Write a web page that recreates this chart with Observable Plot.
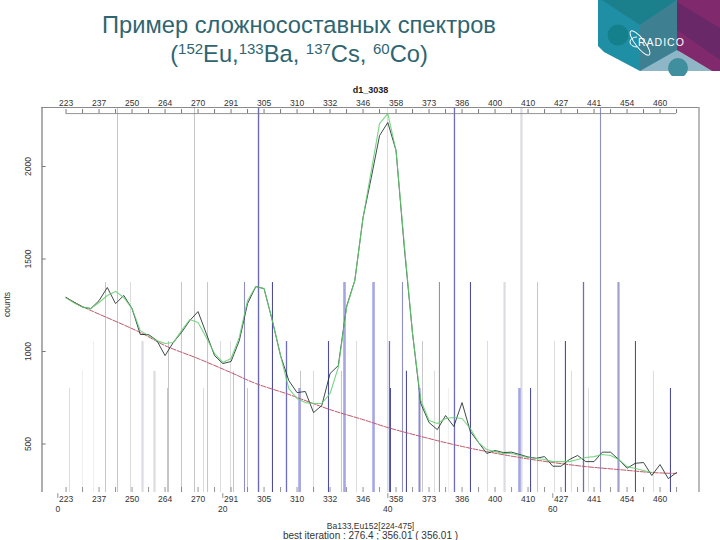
<!DOCTYPE html>
<html><head><meta charset="utf-8">
<script src="https://cdn.jsdelivr.net/npm/d3@7"></script>
<script src="https://cdn.jsdelivr.net/npm/@observablehq/plot@0.6"></script>
<style>
html,body{margin:0;padding:0;background:#fff;width:720px;height:540px;overflow:hidden}
#head{position:relative;height:82px;width:720px;font-family:"Liberation Sans",Arial,sans-serif;color:#2f6571}
#t1,#t2{position:absolute;left:0;width:598px;text-align:center;font-size:23.7px;white-space:nowrap}
#t1{top:12px}#t2{top:41px}
#t2 sup{font-size:15px;line-height:0;vertical-align:baseline;position:relative;top:-8px}
#logo{position:absolute;left:590px;top:0}
#chart svg{display:block}
</style></head><body>
<div id="head">
<div id="t1">Пример сложносоставных спектров</div>
<div id="t2">(<sup>152</sup>Eu,<sup>133</sup>Ba, <sup>137</sup>Cs, <sup>60</sup>Co)</div>
<svg id="logo" width="130" height="76" viewBox="590 0 130 76">
<polygon points="598,0 598,46 604,52 640,71 680,71 677,0" fill="#1f8fa6"/>
<polygon points="602,0 640,25 677,0" fill="#1b7f8c"/>
<polygon points="640,25 677,0 677,50 640,71" fill="#3f7f92"/>
<polygon points="640,71 677,50 712,71" fill="#8fb6c6"/>
<circle cx="618" cy="35" r="10.5" fill="#14808c"/>
<circle cx="678" cy="68" r="10" fill="#3f8f9e"/>
<polygon points="677,0 720,0 720,71 712,71 677,50" fill="#80296c"/>
<polygon points="677,2 720,28 720,60 677,30" fill="#5f2a66" opacity=".7"/>
<g fill="none" stroke="#fff" stroke-width="1">
<path d="M637,37 A7,5 0 1 0 637,47"/>
<ellipse cx="640" cy="43" rx="15" ry="4.5" transform="rotate(52 640 43)"/>
</g>
<text x="638" y="46" fill="#fff" font-family="'Liberation Sans',Arial,sans-serif" font-size="10.5" letter-spacing="1">RADICO</text>
</svg>
</div>
<div id="chart"></div>
<script>
const channelIndex = d3.range(1, 76);
const observed = [1292,1265,1240,1232,1275,1346,1259,1303,1232,1092,1092,1060,978,1049,1103,1168,1216,1097,978,935,946,1059,1259,1351,1340,1168,978,843,778,784,670,708,881,924,1243,1384,1724,1941,2167,2238,2086,1562,1097,719,616,578,654,595,724,568,508,449,465,454,456,443,430,423,432,380,380,416,438,405,405,456,456,416,369,396,400,330,389,313,346];
const fitted = [1290,1262,1240,1232,1265,1303,1325,1292,1232,1113,1086,1059,1043,1049,1113,1173,1157,1076,989,941,962,1076,1276,1351,1340,1168,978,800,746,724,719,719,773,914,1238,1384,1724,1978,2232,2286,2086,1578,1097,735,627,611,638,643,638,584,508,470,459,449,449,438,427,422,416,405,405,405,416,427,432,443,438,416,378,368,357,346];
const backgroundIndex = [1,3,10,13,17,21,24,28,33,37,40,44,48,52,56,60,64,68,72,75];
const background = [1292,1243,1103,1032,962,886,827,768,686,632,589,541,497,459,427,400,378,362,346,341];
const fullLines = [7.24,16.57,24.33,39.96,48.08,56.2,65.78];
const fullKinds = ["gray","gray","deep","pale","mid","wideGray","slate"];
const highLines = [5.78,8.81,14.99,18.15,22.63,26.02,34.75,38.27,41.78,46.26,50.02,54.15,58.15,63.72,67.96];
const highKinds = ["gray","pale","gray","gray","slate","dark","wideBlue","wideBlue","slate","slate","dark","wideGray","gray","mid","wideSlate"];
const midLines = [4.33,10.27,13.42,19.72,20.93,27.72,32.81,36.2,40.2,44.2,52.08,60.2,61.53,70.02];
const midKinds = ["faint","wideGray","gray","pale","pale","mid","dark","pale","mid","gray","pale","pale","dark","dark"];
const lowLines = [2.99,11.72,21.3,29.42,30.99,34.38,42.26,45.66,62.26,72.2];
const lowKinds = ["faint","wideGray","gray","gray","pale","gray","dark","pale","pale","pale"];
const baseLines = [1.42,13.3,17.66,22.99,29.3,40.32,43.84,47.35,55.96,57.3,64.32,74.26];
const baseKinds = ["pale","gray","pale","gray","wideBlue","dark","wideMid","faint","wideBlue","dark","pale","dark"];
const tierLevels = [2319,1373,1054,893,800];
const tickIndex = d3.range(1, 76, 2);
const labelIndex = d3.range(1, 74, 4);
const energyLabels = ["223","237","250","264","270","291","305","310","332","346","358","373","386","400","410","427","441","454","460"];
const indexTicks = [0,20,40,60];
const countTicks = [500,1000,1500,2000];

const xMin=-1.915,xMax=77.72,yMin=238,yMax=2319;
const labelOf = new Map(labelIndex.map((d,i)=>[d,energyLabels[i]]));
const kindColor = {deep:"#6a6ab0",dark:"#4d4d9e",mid:"#6c6cc0",slate:"#8f8fc0",wideBlue:"#a6a6e2",wideMid:"#8a8ad4",wideSlate:"#a0a0cc",gray:"#c6c6c6",pale:"#dcdcdc",faint:"#eeeeee",wideGray:"#dcdce2"};
const kindWidth = {deep:1.4,dark:1.1,mid:1.3,slate:1.1,wideBlue:2.6,wideMid:2,wideSlate:2.2,gray:1,pale:1,faint:1,wideGray:2.2};
const tiers=[[fullLines,fullKinds],[highLines,highKinds],[midLines,midKinds],[lowLines,lowKinds],[baseLines,baseKinds]];
const peaks = tiers.flatMap(([xs,ks],t)=>xs.map((x,i)=>({x,kind:ks[i],top:tierLevels[t]})));
const obs = channelIndex.map((x,i)=>({x,y:observed[i]}));
const fit = fitted.map((y,i)=>({x:channelIndex[i],y}));
const bg = backgroundIndex.map((x,i)=>({x,y:background[i]}));
const font="'Liberation Sans',Arial,sans-serif";

const plot = Plot.plot({
  width:720,height:458,
  marginTop:25,marginBottom:48,marginLeft:41.5,marginRight:21.5,
  style:{fontFamily:font,background:"#fff",color:"#333",overflow:"visible"},
  x:{domain:[xMin,xMax]},
  y:{domain:[yMin,yMax]},
  marks:[
    Plot.ruleX(peaks,{x:"x",y1:yMin,y2:"top",stroke:d=>kindColor[d.kind],strokeWidth:d=>kindWidth[d.kind]}),
    Plot.ruleY([yMax],{stroke:"#8a8a8a",strokeWidth:1}),
    Plot.ruleX([xMax],{stroke:"#8a8a8a",strokeWidth:1.2}),
    Plot.ruleX([xMin],{stroke:"#777",strokeWidth:1.2}),
    Plot.link(countTicks,{x1:xMin,x2:xMin+0.45,y1:d=>d,y2:d=>d,stroke:"#777"}),
    Plot.ruleY([2286],{x1:1,x2:75,stroke:"#777",strokeWidth:.8}),
    Plot.ruleX(tickIndex,{y1:2286,y2:2308,stroke:"#555",strokeWidth:.8}),
    Plot.ruleX(tickIndex,{y1:yMin,y2:265,stroke:"#777",strokeWidth:.8}),
    Plot.line(bg,{x:"x",y:"y",stroke:"#c0566a",strokeWidth:1,curve:"catmull-rom",strokeDasharray:"5 1.5"}),
    Plot.line(obs,{x:"x",y:"y",stroke:"#1c2a2a",strokeWidth:.85}),
    Plot.line(fit,{x:"x",y:"y",stroke:"#62cf6e",strokeWidth:1.1,strokeOpacity:.85}),
    Plot.axisY({anchor:"left",ticks:countTicks,tickFormat:d=>String(d),tickSize:0,tickPadding:11,tickRotate:-90,fontSize:8.5,label:null}),
    Plot.text(["counts"],{frameAnchor:"left",dx:-34.5,dy:17,rotate:-90,text:d=>d,fontSize:8.5,fill:"#333"}),
    Plot.axisX({anchor:"top",ticks:labelIndex,tickFormat:d=>labelOf.get(d),tickSize:0,tickPadding:2,fontSize:8.5,label:null}),
    Plot.axisX({anchor:"bottom",ticks:labelIndex,tickFormat:d=>labelOf.get(d),tickSize:0,tickPadding:3,fontSize:8.5,label:null}),
    Plot.ruleX(indexTicks,{y1:yMin-6,y2:yMin-32,stroke:"#777",strokeWidth:.8,clip:false}),
    Plot.text(indexTicks,{x:d=>d,text:d=>String(d),frameAnchor:"bottom",dy:19,fontSize:8.5,fill:"#333"}),
    Plot.text(["d1_3038"],{frameAnchor:"top",dy:-21,text:d=>d,fontSize:9,fontWeight:"bold",fill:"#222"}),
    Plot.text(["Ba133,Eu152[224-475]"],{frameAnchor:"bottom",dy:36,text:d=>d,fontSize:8.5,fill:"#333"}),
    Plot.text(["best iteration : 276.4 ; 356.01 ( 356.01 )"],{frameAnchor:"bottom",dy:46,text:d=>d,fontSize:10,fill:"#333"})
  ]
});
document.getElementById("chart").append(plot);
</script>
</body></html>
